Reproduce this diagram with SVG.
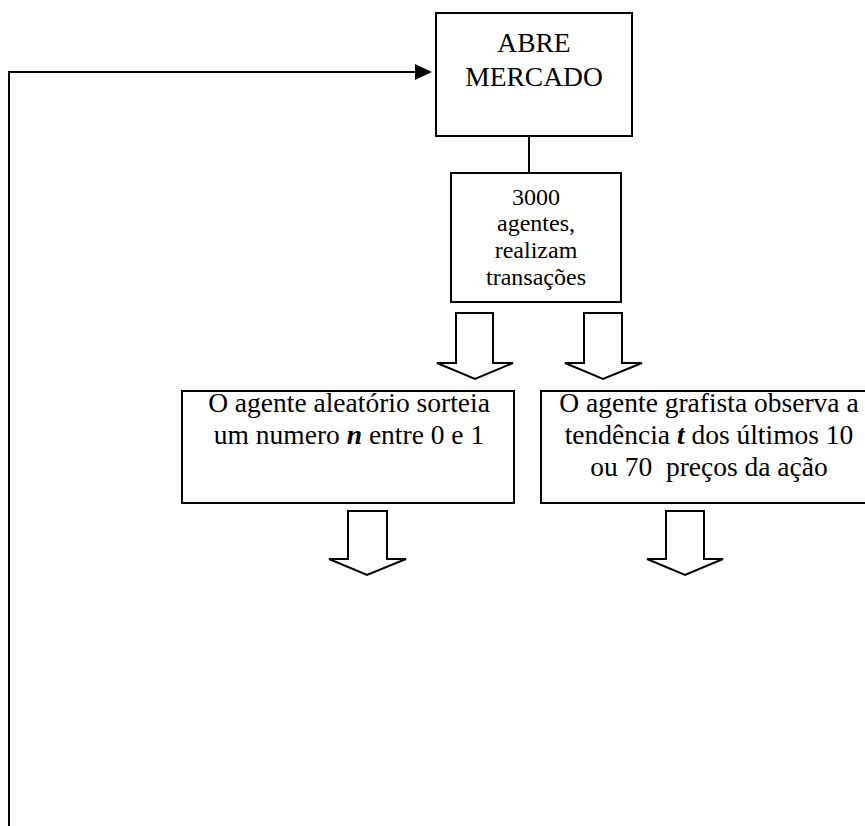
<svg xmlns="http://www.w3.org/2000/svg" width="865" height="826" viewBox="0 0 865 826">
<style>
.box{fill:#fff;stroke:#000;stroke-width:2}
.blk{fill:#fff;stroke:#000;stroke-width:2;stroke-linejoin:miter}
.ln{fill:none;stroke:#000;stroke-width:2}
.t{font-family:"Liberation Serif","Times New Roman",serif;fill:#000;text-anchor:middle}
.big{font-size:27.5px}
.mid{font-size:24px}
.bi{font-weight:bold;font-style:italic}
</style>
<g id="connectors">
<path class="ln" d="M9,826 L9,72 L415,72"/>
<path d="M415,64 L432,72 L415,80 Z" fill="#000"/>
<line class="ln" x1="529" y1="136" x2="529" y2="173"/>
<path class="blk" d="M456,313 L493,313 L493,363 L513,363 L475,379 L437,363 L456,363 Z"/>
<path class="blk" d="M584,313 L622,313 L622,363 L642,363 L603,379 L565,363 L584,363 Z"/>
<path class="blk" d="M348,511 L387,511 L387,559 L406,559 L367,575 L329,559 L348,559 Z"/>
<path class="blk" d="M666,511 L704,511 L704,559 L723,559 L685,575 L647,559 L666,559 Z"/>
</g>
<g id="abre">
<rect class="box" x="436" y="13" width="196" height="123"/>
<text class="t big" font-family="Liberation Serif, serif" x="534" y="52">ABRE</text>
<text class="t big" font-family="Liberation Serif, serif" x="534" y="86">MERCADO</text>
</g>
<g id="agentes">
<rect class="box" x="451" y="173" width="170" height="129"/>
<text class="t mid" font-family="Liberation Serif, serif" x="536" y="205">3000</text>
<text class="t mid" font-family="Liberation Serif, serif" x="536" y="231">agentes,</text>
<text class="t mid" font-family="Liberation Serif, serif" x="536" y="258">realizam</text>
<text class="t mid" font-family="Liberation Serif, serif" x="536" y="285">transações</text>
</g>
<g id="aleatorio">
<rect class="box" x="182" y="391" width="332" height="112"/>
<text class="t big" font-family="Liberation Serif, serif" x="349" y="412">O agente aleatório sorteia</text>
<text class="t big" font-family="Liberation Serif, serif" x="349" y="444">um numero <tspan class="bi">n</tspan> entre 0 e 1</text>
</g>
<g id="grafista">
<rect class="box" x="541" y="391" width="340" height="112"/>
<text class="t big" font-family="Liberation Serif, serif" x="709" y="412">O agente grafista observa a</text>
<text class="t big" font-family="Liberation Serif, serif" x="709" y="444">tendência <tspan class="bi">t</tspan> dos últimos 10</text>
<text class="t big" font-family="Liberation Serif, serif" x="709" y="476" xml:space="preserve">ou 70  preços da ação</text>
</g>
</svg>
